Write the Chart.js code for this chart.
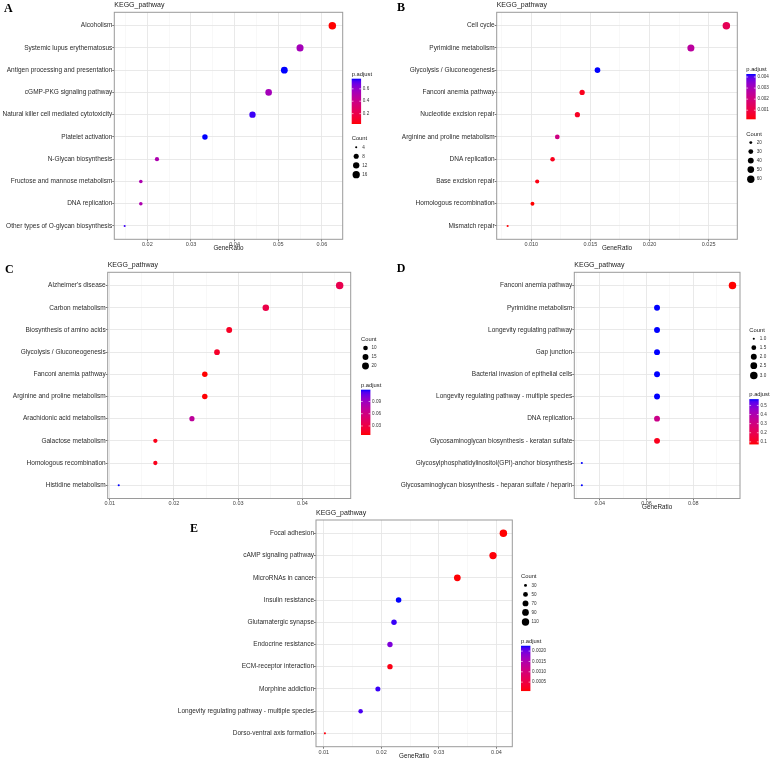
<!DOCTYPE html>
<html>
<head>
<meta charset="utf-8">
<title>KEGG pathway enrichment</title>
<script src="https://cdn.jsdelivr.net/npm/chart.js@4.4.0/dist/chart.umd.min.js"></script>
<style>
  body { margin: 0; background: #fff; width: 772px; height: 759px; position: relative; overflow: hidden; }
  canvas { position: absolute; }
</style>
</head>
<body>
<script>
// ---- data ----
const termsA = ['Alcoholism', 'Systemic lupus erythematosus', 'Antigen processing and presentation',
  'cGMP-PKG signaling pathway', 'Natural killer cell mediated cytotoxicity', 'Platelet activation',
  'N-Glycan biosynthesis', 'Fructose and mannose metabolism', 'DNA replication',
  'Other types of O-glycan biosynthesis'];
const ratioA = [0.0624, 0.0550, 0.0514, 0.0478, 0.0441, 0.0332, 0.0222, 0.0185, 0.0185, 0.0148];
const countA = [17, 15, 14, 13, 12, 9, 6, 5, 5, 4];
const padjA = [0.033, 0.55, 0.763, 0.55, 0.74, 0.763, 0.52, 0.52, 0.52, 0.74];
const xTicksA = [0.02, 0.03, 0.04, 0.05, 0.06];
const xTickLabelsA = ['0.02', '0.03', '0.04', '0.05', '0.06'];
const sizeBreaksA = [4, 8, 12, 16];
const sizeLabelsA = ['4', '8', '12', '16'];
const padjBreaksA = [0.2, 0.4, 0.6];
const padjLabelsA = ['0.2', '0.4', '0.6'];

const termsB = ['Cell cycle', 'Pyrimidine metabolism', 'Glycolysis / Gluconeogenesis', 'Fanconi anemia pathway',
  'Nucleotide excision repair', 'Arginine and proline metabolism', 'DNA replication', 'Base excision repair',
  'Homologous recombination', 'Mismatch repair'];
const ratioB = [0.0265, 0.0235, 0.0156, 0.0143, 0.0139, 0.0122, 0.0118, 0.0105, 0.0101, 0.0080];
const countB = [62, 55, 37, 34, 33, 29, 28, 25, 24, 19];
const padjB = [0.0013, 0.0026, 0.00427, 0.0004, 0.0005, 0.0021, 0.0004, 0.0003, 0.00018, 0.0002];
const xTicksB = [0.010, 0.015, 0.020, 0.025];
const xTickLabelsB = ['0.010', '0.015', '0.020', '0.025'];
const sizeBreaksB = [20, 30, 40, 50, 60];
const sizeLabelsB = ['20', '30', '40', '50', '60'];
const padjBreaksB = [0.001, 0.002, 0.003, 0.004];
const padjLabelsB = ['0.001', '0.002', '0.003', '0.004'];

const termsC = ["Alzheimer's disease", 'Carbon metabolism', 'Biosynthesis of amino acids',
  'Glycolysis / Gluconeogenesis', 'Fanconi anemia pathway', 'Arginine and proline metabolism',
  'Arachidonic acid metabolism', 'Galactose metabolism', 'Homologous recombination', 'Histidine metabolism'];
const ratioC = [0.0458, 0.0343, 0.0286, 0.0267, 0.0248, 0.0248, 0.0228, 0.0171, 0.0171, 0.0114];
const countC = [24, 18, 15, 14, 13, 13, 12, 9, 9, 6];
const padjC = [0.035, 0.032, 0.017, 0.019, 0.0079, 0.0085, 0.072, 0.013, 0.014, 0.1188];
const xTicksC = [0.01, 0.02, 0.03, 0.04];
const xTickLabelsC = ['0.01', '0.02', '0.03', '0.04'];
const sizeBreaksC = [10, 15, 20];
const sizeLabelsC = ['10', '15', '20'];
const padjBreaksC = [0.03, 0.06, 0.09];
const padjLabelsC = ['0.03', '0.06', '0.09'];

const termsD = ['Fanconi anemia pathway', 'Pyrimidine metabolism', 'Longevity regulating pathway', 'Gap junction',
  'Bacterial invasion of epithelial cells', 'Longevity regulating pathway - multiple species', 'DNA replication',
  'Glycosaminoglycan biosynthesis - keratan sulfate', 'Glycosylphosphatidylinositol(GPI)-anchor biosynthesis',
  'Glycosaminoglycan biosynthesis - heparan sulfate / heparin'];
const ratioD = [0.0968, 0.0645, 0.0645, 0.0645, 0.0645, 0.0645, 0.0645, 0.0645, 0.0323, 0.0323];
const countD = [3, 2, 2, 2, 2, 2, 2, 2, 1, 1];
const padjD = [0.0716, 0.569, 0.569, 0.569, 0.569, 0.569, 0.32, 0.10, 0.569, 0.569];
const xTicksD = [0.04, 0.06, 0.08];
const xTickLabelsD = ['0.04', '0.06', '0.08'];
const sizeBreaksD = [1, 1.5, 2, 2.5, 3];
const sizeLabelsD = ['1.0', '1.5', '2.0', '2.5', '3.0'];
const padjBreaksD = [0.1, 0.2, 0.3, 0.4, 0.5];
const padjLabelsD = ['0.1', '0.2', '0.3', '0.4', '0.5'];

const termsE = ['Focal adhesion', 'cAMP signaling pathway', 'MicroRNAs in cancer', 'Insulin resistance',
  'Glutamatergic synapse', 'Endocrine resistance', 'ECM-receptor interaction', 'Morphine addiction',
  'Longevity regulating pathway - multiple species', 'Dorso-ventral axis formation'];
const ratioE = [0.0412, 0.0394, 0.0332, 0.0230, 0.0222, 0.0215, 0.0215, 0.0194, 0.0164, 0.0102];
const countE = [113, 108, 91, 63, 61, 59, 59, 53, 45, 28];
const padjE = [0.000067, 0.0001, 0.00008, 0.00226, 0.0022, 0.00193, 0.00015, 0.0022, 0.00215, 0.00012];
const xTicksE = [0.01, 0.02, 0.03, 0.04];
const xTickLabelsE = ['0.01', '0.02', '0.03', '0.04'];
const sizeBreaksE = [30, 50, 70, 90, 110];
const sizeLabelsE = ['30', '50', '70', '90', '110'];
const padjBreaksE = [0.0005, 0.0010, 0.0015, 0.0020];
const padjLabelsE = ['0.0005', '0.0010', '0.0015', '0.0020'];

// ---- layout (page pixels) ----
const panels = [
  { key: 'A', terms: termsA, ratio: ratioA, count: countA, padj: padjA, xTicks: xTicksA, xTickLabels: xTickLabelsA,
    sizeBreaks: sizeBreaksA, sizeLabels: sizeLabelsA, padjBreaks: padjBreaksA, padjLabels: padjLabelsA,
    box: { left: 0, top: 0, width: 385, height: 253 }, plot: { l: 114.3, t: 12.3, r: 342.7, b: 239.3 },
    letter: [4, 8.7], legend: { x: 351.7, y: 74, order: ['color', 'size'] }, xTitle: true },
  { key: 'B', terms: termsB, ratio: ratioB, count: countB, padj: padjB, xTicks: xTicksB, xTickLabels: xTickLabelsB,
    sizeBreaks: sizeBreaksB, sizeLabels: sizeLabelsB, padjBreaks: padjBreaksB, padjLabels: padjLabelsB,
    box: { left: 385, top: 0, width: 387, height: 253 }, plot: { l: 496.7, t: 12.3, r: 737.3, b: 239.3 },
    letter: [397, 8.3], legend: { x: 746.3, y: 69.3, order: ['color', 'size'] }, xTitle: true },
  { key: 'C', terms: termsC, ratio: ratioC, count: countC, padj: padjC, xTicks: xTicksC, xTickLabels: xTickLabelsC,
    sizeBreaks: sizeBreaksC, sizeLabels: sizeLabelsC, padjBreaks: padjBreaksC, padjLabels: padjLabelsC,
    box: { left: 0, top: 253, width: 385, height: 254 }, plot: { l: 107.7, t: 272.3, r: 350.7, b: 498.5 },
    letter: [5, 270], legend: { x: 361, y: 339.3, order: ['size', 'color'] }, xTitle: false },
  { key: 'D', terms: termsD, ratio: ratioD, count: countD, padj: padjD, xTicks: xTicksD, xTickLabels: xTickLabelsD,
    sizeBreaks: sizeBreaksD, sizeLabels: sizeLabelsD, padjBreaks: padjBreaksD, padjLabels: padjLabelsD,
    box: { left: 385, top: 253, width: 387, height: 257 }, plot: { l: 574.3, t: 272.3, r: 740, b: 498.5 },
    letter: [396.7, 269.2], legend: { x: 749.3, y: 330, order: ['size', 'color'] }, xTitle: true },
  { key: 'E', terms: termsE, ratio: ratioE, count: countE, padj: padjE, xTicks: xTicksE, xTickLabels: xTickLabelsE,
    sizeBreaks: sizeBreaksE, sizeLabels: sizeLabelsE, padjBreaks: padjBreaksE, padjLabels: padjLabelsE,
    box: { left: 160, top: 507, width: 412, height: 252 }, plot: { l: 316, t: 520, r: 512.3, b: 746.7 },
    letter: [190, 529.2], legend: { x: 521, y: 576.7, order: ['size', 'color'] }, xTitle: true }
];

const FONT = '"Liberation Sans", Arial, sans-serif';
const SERIF = '"Liberation Serif", "Times New Roman", serif';

// red -> blue gradient interpolated in Lab, like ggplot's scale_colour_gradient
function srgbToLab(r, g, b) {
  const lin = c => { c /= 255; return c <= 0.04045 ? c / 12.92 : Math.pow((c + 0.055) / 1.055, 2.4); };
  const R = lin(r), G = lin(g), B = lin(b);
  const X = (0.4124 * R + 0.3576 * G + 0.1805 * B) / 0.95047;
  const Y = 0.2126 * R + 0.7152 * G + 0.0722 * B;
  const Z = (0.0193 * R + 0.1192 * G + 0.9505 * B) / 1.08883;
  const f = t => t > 0.008856 ? Math.cbrt(t) : 7.787 * t + 16 / 116;
  return [116 * f(Y) - 16, 500 * (f(X) - f(Y)), 200 * (f(Y) - f(Z))];
}
function labToRgb(L, a, b) {
  const fy = (L + 16) / 116, fx = fy + a / 500, fz = fy - b / 200;
  const inv = t => t * t * t > 0.008856 ? t * t * t : (t - 16 / 116) / 7.787;
  const X = inv(fx) * 0.95047, Y = inv(fy), Z = inv(fz) * 1.08883;
  const R = 3.2406 * X - 1.5372 * Y - 0.4986 * Z;
  const G = -0.9689 * X + 1.8758 * Y + 0.0415 * Z;
  const B = 0.0557 * X - 0.2040 * Y + 1.0570 * Z;
  const gam = c => {
    c = c <= 0.0031308 ? 12.92 * c : 1.055 * Math.pow(c, 1 / 2.4) - 0.055;
    return Math.round(255 * Math.min(1, Math.max(0, c)));
  };
  return `rgb(${gam(R)},${gam(G)},${gam(B)})`;
}
const LAB_LOW = srgbToLab(255, 0, 0), LAB_HIGH = srgbToLab(0, 0, 255);
function redBlue(t) {
  return labToRgb(...LAB_LOW.map((v, i) => v + (LAB_HIGH[i] - v) * t));
}

function pointRadius(c, cmin, cmax) {
  const t = Math.max(0, Math.min(1, (c - cmin) / ((cmax - cmin) || 1)));
  return 1.05 + 2.7 * Math.sqrt(t);
}

function tickSet(majors, lo, hi) {
  const step = majors[1] - majors[0];
  const out = majors.filter(v => v >= lo && v <= hi).map(v => ({ value: v }));
  for (let k = -1; k < majors.length; k++) {
    const v = majors[0] + (k + 0.5) * step;
    if (v > lo && v < hi) out.push({ value: v, minor: true });
  }
  return out.sort((a, b) => a.value - b.value);
}

function drawColourbar(ctx, p, x, y) {
  const lo = Math.min(...p.padj), hi = Math.max(...p.padj);
  ctx.fillStyle = '#1a1a1a'; ctx.font = `5.8px ${FONT}`;
  ctx.fillText('p.adjust', x, y);
  const top = y + 4.7, h = 45.3, w = 9.4;
  const g = ctx.createLinearGradient(0, top + h, 0, top);
  for (let i = 0; i <= 20; i++) g.addColorStop(i / 20, redBlue(i / 20));
  ctx.fillStyle = g;
  ctx.fillRect(x, top, w, h);
  ctx.font = `4.6px ${FONT}`;
  p.padjBreaks.forEach((v, i) => {
    const yy = top + h - (v - lo) / (hi - lo) * h;
    ctx.strokeStyle = '#fff'; ctx.lineWidth = 0.6;
    ctx.beginPath();
    ctx.moveTo(x, yy); ctx.lineTo(x + 1.8, yy);
    ctx.moveTo(x + w - 1.8, yy); ctx.lineTo(x + w, yy);
    ctx.stroke();
    ctx.fillStyle = '#333';
    ctx.fillText(p.padjLabels[i], x + w + 1.7, yy);
  });
  return top + h + 14.6;
}

function drawSizeKeys(ctx, p, x, y) {
  const cmin = Math.min(...p.count), cmax = Math.max(...p.count);
  ctx.fillStyle = '#1a1a1a'; ctx.font = `5.8px ${FONT}`;
  ctx.fillText('Count', x, y);
  ctx.font = `4.6px ${FONT}`;
  let yy = y + 8.7;
  p.sizeBreaks.forEach((c, i) => {
    const r = pointRadius(c, cmin, cmax);
    ctx.fillStyle = '#000';
    ctx.beginPath(); ctx.arc(x + 4.5, yy, r, 0, Math.PI * 2); ctx.fill();
    ctx.fillStyle = '#333';
    ctx.fillText(p.sizeLabels[i], x + 10.5, yy);
    if (i < p.sizeBreaks.length - 1) {
      const rn = pointRadius(p.sizeBreaks[i + 1], cmin, cmax);
      yy += Math.max(9, r + rn + 2.6);
    }
  });
  return yy + 19;
}

function makeDecor(p) {
  return {
    id: 'decor' + p.key,
    afterDraw(chart) {
      const ctx = chart.ctx, a = chart.chartArea;
      const ox = p.box.left, oy = p.box.top;
      ctx.save();
      ctx.strokeStyle = '#9a9a9a'; ctx.lineWidth = 1;
      ctx.strokeRect(a.left, a.top, a.right - a.left, a.bottom - a.top);
      ctx.textBaseline = 'middle'; ctx.textAlign = 'left';
      ctx.fillStyle = '#1a1a1a'; ctx.font = `7px ${FONT}`;
      ctx.fillText('KEGG_pathway', a.left, a.top - 7.3);
      if (p.xTitle) {
        ctx.textAlign = 'center'; ctx.font = `6.3px ${FONT}`;
        ctx.fillText('GeneRatio', (a.left + a.right) / 2, a.bottom + 9.2);
        ctx.textAlign = 'left';
      }
      ctx.fillStyle = '#000'; ctx.font = `bold 12px ${SERIF}`;
      ctx.fillText(p.key, p.letter[0] - ox, p.letter[1] - oy);
      let x = p.legend.x - ox, y = p.legend.y - oy;
      for (const part of p.legend.order) {
        y = part === 'color' ? drawColourbar(ctx, p, x, y) : drawSizeKeys(ctx, p, x, y);
      }
      ctx.restore();
    }
  };
}

function buildPanel(p) {
  const cv = document.createElement('canvas');
  cv.width = p.box.width; cv.height = p.box.height;
  cv.style.left = p.box.left + 'px'; cv.style.top = p.box.top + 'px';
  document.body.appendChild(cv);

  const dmin = Math.min(...p.ratio), dmax = Math.max(...p.ratio);
  const lo = dmin - 0.05 * (dmax - dmin), hi = dmax + 0.05 * (dmax - dmin);
  const xt = tickSet(p.xTicks, lo, hi);
  const cmin = Math.min(...p.count), cmax = Math.max(...p.count);
  const pmin = Math.min(...p.padj), pmax = Math.max(...p.padj);
  const n = p.terms.length;

  new Chart(cv, {
    type: 'scatter',
    data: {
      datasets: [{
        data: p.ratio.map((r, i) => ({ x: r, y: i })),
        pointRadius: p.count.map(c => pointRadius(c, cmin, cmax)),
        pointHoverRadius: p.count.map(c => pointRadius(c, cmin, cmax)),
        pointBackgroundColor: p.padj.map(v => redBlue((v - pmin) / (pmax - pmin))),
        pointBorderWidth: 0
      }]
    },
    options: {
      responsive: false, animation: false, devicePixelRatio: 1, events: [],
      layout: { padding: { left: 0, bottom: 0, top: p.plot.t - p.box.top, right: p.box.left + p.box.width - p.plot.r } },
      plugins: { legend: { display: false }, tooltip: { enabled: false } },
      scales: {
        x: {
          type: 'linear', min: lo, max: hi,
          afterBuildTicks: s => { s.ticks = xt.map(t => ({ ...t })); },
          afterFit: s => { s.height = p.box.top + p.box.height - p.plot.b; },
          border: { display: false },
          grid: {
            color: c => (c.tick && c.tick.minor) ? '#f3f3f3' : '#e6e6e6',
            lineWidth: c => (c.tick && c.tick.minor) ? 0.6 : 0.9,
            tickColor: c => (c.tick && c.tick.minor) ? 'rgba(0,0,0,0)' : '#666',
            tickLength: 2
          },
          ticks: {
            autoSkip: false, maxRotation: 0, padding: 0, color: '#444',
            font: { family: FONT, size: 5.5 },
            callback: (v, i, ticks) => ticks[i].minor ? '' : p.xTickLabels[p.xTicks.indexOf(ticks[i].value)]
          }
        },
        y: {
          type: 'linear', reverse: true, min: -0.6, max: n - 1 + 0.6,
          afterBuildTicks: s => { s.ticks = p.terms.map((_, i) => ({ value: i })); },
          afterFit: s => { s.width = p.plot.l - p.box.left; },
          border: { display: false },
          grid: { color: '#e6e6e6', lineWidth: 0.9, tickColor: '#666', tickLength: 2 },
          ticks: {
            autoSkip: false, padding: 0, color: '#2b2b2b',
            font: { family: FONT, size: 6.5 },
            callback: v => p.terms[v]
          }
        }
      }
    },
    plugins: [makeDecor(p)]
  });
}

panels.forEach(buildPanel);
</script>
</body>
</html>
